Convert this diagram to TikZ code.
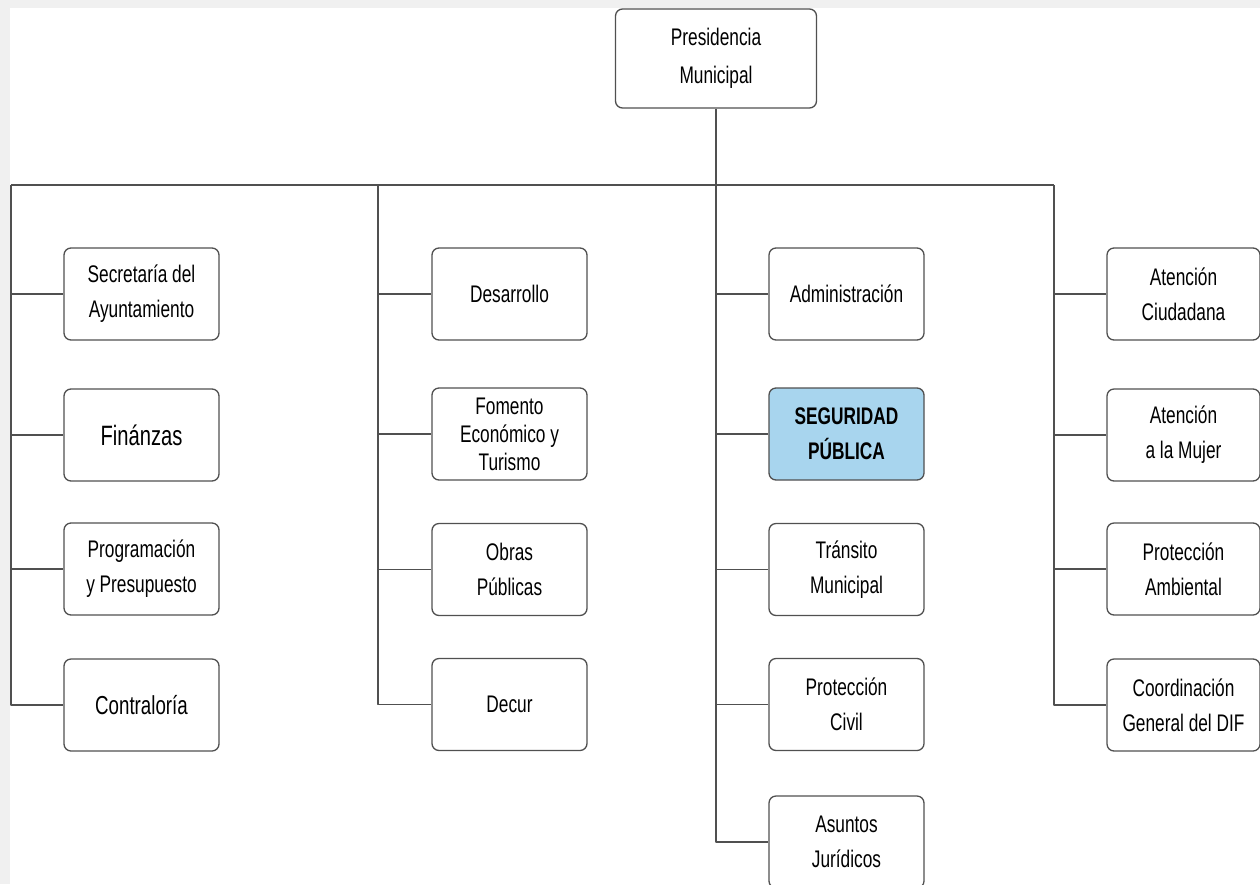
\documentclass[tikz,border=0pt]{standalone}
\usepackage{fontspec}
\setmainfont[FakeStretch=0.72]{Liberation Sans}
\definecolor{linea}{HTML}{505050}
\definecolor{fondo}{HTML}{F0F0F0}
\definecolor{celeste}{HTML}{A8D5EE}
\tikzset{
  caja/.style={draw=linea, line width=1.3pt, rounded corners=7pt, fill=white,
    minimum width=155pt, minimum height=92pt, align=center,
    font=\fontsize{24}{35}\selectfont, inner sep=2pt},
  enlace/.style={draw=linea, line width=1.3pt}
}
\begin{document}
\begin{tikzpicture}[x=1pt, y=-1pt, line join=round]
	\fill[fondo] (0,0) rectangle (1260,884);
	\fill[white] (10,8) rectangle (1260,884);
	\useasboundingbox (0,0) rectangle (1260,884);
	% cabeza
	\node[caja, minimum width=201pt, minimum height=99pt, font=\fontsize{24}{38}\selectfont] (pres) at (716,58.5) {Presidencia\\Municipal};
	\path (716,185) coordinate (bus)
		(11,185) coordinate (c1)
		(378,185) coordinate (c2)
		(1054,185) coordinate (c4);
	% primera columna
	\node[caja] (secr) at (141.5,294) {Secretaría del\\Ayuntamiento};
	\node[caja, font=\fontsize{28}{35}\selectfont] (fina) at (141.5,435) {Finánzas};
	\node[caja] (prog) at (141.5,569) {Programación\\y Presupuesto};
	\node[caja, font=\fontsize{26}{35}\selectfont] (cont) at (141.5,705) {Contraloría};
	% segunda columna
	\node[caja] (desa) at (509.5,294) {Desarrollo};
	\node[caja, font=\fontsize{24}{28}\selectfont] (fome) at (509.5,434) {Fomento\\Económico y\\Turismo};
	\node[caja] (obra) at (509.5,569.5) {Obras\\Públicas};
	\node[caja] (decu) at (509.5,704.5) {Decur};
	% tercera columna
	\node[caja] (admi) at (846.5,294) {Administración};
	\node[caja, fill=celeste, font=\fontsize{24}{35}\selectfont\bfseries] (segu) at (846.5,434) {SEGURIDAD\\PÚBLICA};
	\node[caja] (tran) at (846.5,569.5) {Tránsito\\Municipal};
	\node[caja] (civi) at (846.5,704.5) {Protección\\Civil};
	\node[caja] (asun) at (846.5,842) {Asuntos\\Jurídicos};
	% cuarta columna
	\node[caja, minimum width=153pt] (ciud) at (1183.5,294) {Atención\\Ciudadana};
	\node[caja, minimum width=153pt] (muje) at (1183.5,435) {Atención\\a la Mujer};
	\node[caja, minimum width=153pt] (ambi) at (1183.5,569) {Protección\\Ambiental};
	\node[caja, minimum width=153pt] (difc) at (1183.5,705) {Coordinación\\General del DIF};
	% lineas
	\draw[enlace] (pres.south) -- (bus);
	\draw[enlace] (c1) -- (c4);
	\draw[enlace] (c1) |- (cont.west);
	\draw[enlace] (c2) |- (decu.west);
	\draw[enlace] (bus) |- (asun.west);
	\draw[enlace] (c4) |- (difc.west);
	\foreach \n in {secr,fina,prog} \draw[enlace] (c1 |- \n.west) -- (\n.west);
	\foreach \n in {desa,fome,obra} \draw[enlace] (c2 |- \n.west) -- (\n.west);
	\foreach \n in {admi,segu,tran,civi} \draw[enlace] (bus |- \n.west) -- (\n.west);
	\foreach \n in {ciud,muje,ambi} \draw[enlace] (c4 |- \n.west) -- (\n.west);
\end{tikzpicture}
\end{document}
